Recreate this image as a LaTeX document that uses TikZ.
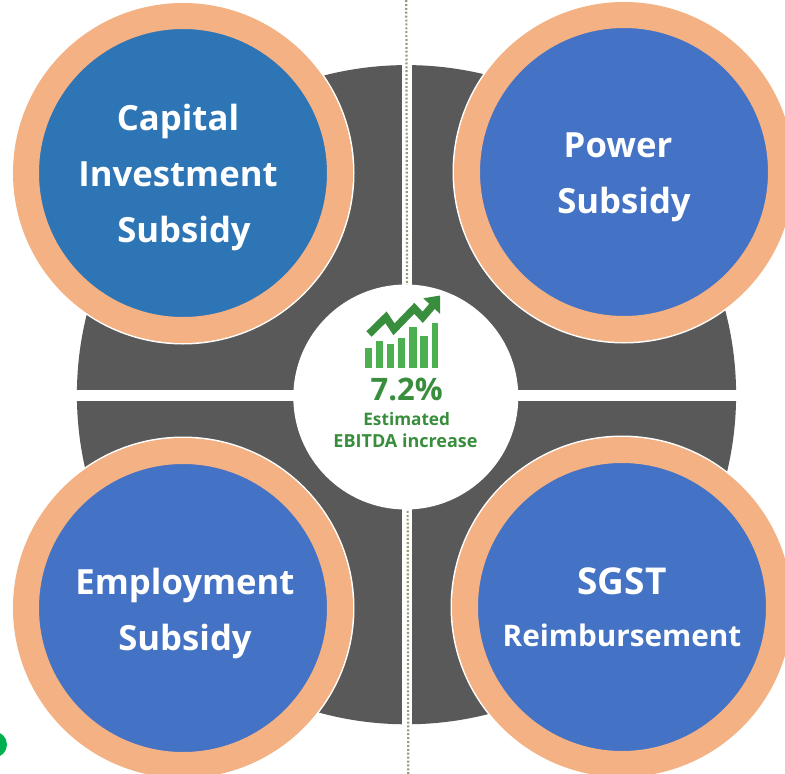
\documentclass[tikz,border=0pt]{standalone}
\usepackage{fontspec}
\setmainfont{Open Sans}
\definecolor{ringcol}{HTML}{F4B183}
\definecolor{bluecol}{HTML}{4472C4}
\definecolor{tealcol}{HTML}{2E75B6}
\definecolor{greycol}{HTML}{595959}
\definecolor{darkgreen}{HTML}{388E3C}
\definecolor{bargreen}{HTML}{4CAF50}
\definecolor{dotcol}{HTML}{A09A72}
\definecolor{blobgreen}{HTML}{00B050}
\tikzset{
        ring/.style={circle, fill=bluecol, draw=ringcol, line width=26pt, minimum size=314pt, inner sep=0pt, outer sep=0pt}, % orange band round each disc
        halo/.style={circle, fill=white, minimum size=343pt, inner sep=0pt},
        bigtext/.style={text=white, align=center, font=\bfseries\fontsize{34.7}{56}\selectfont},
        hubtext/.style={text=darkgreen, anchor=base, font=\bfseries\fontsize{17.5}{22}\selectfont},
        bar/.style={fill=bargreen},
    }

\begin{document}
\begin{tikzpicture}[x=1pt, y=-1pt]
    \useasboundingbox (0,0) rectangle (785,774);
    % grey wheel with its white cross
    \fill[greycol] (406.5,394.7) circle (329.6pt);
    \fill[white] (401.7,50) rectangle (411.7,740);
    \fill[white] (60,390) rectangle (750,401);
    \coordinate (dottop) at (406.3,0);
    \coordinate (dotbottom) at (408.3,774);
    \draw[dotcol, line width=2.2pt, dash pattern=on 2pt off 1.9pt] (dottop) -- (dotbottom);
    % green blob at the edge
    \node[circle, fill=blobgreen, minimum size=26pt, inner sep=0pt] (edgeblob) at (-6,744.5) {};
    % the four discs
    \node[halo] (capitalhalo) at (183,173) {};
    \node[halo] (powerhalo) at (624,172) {};
    \node[halo] (employmenthalo) at (183,608) {};
    \node[halo] (sgsthalo) at (622,607) {};
    \node[ring, fill=tealcol] (capital) at (183,173) {};
    \node[ring] (power) at (624,172) {};
    \node[ring] (employment) at (183,608) {};
    \node[ring] (sgst) at (622,607) {};
    \node[bigtext] (capitaltext) at (178,177) {Capital\\Investment\\\hspace{12pt}Subsidy};
    \node[bigtext] (powertext) at (621,177) {\hspace{-6pt}Power\\\hspace{6pt}Subsidy};
    \node[bigtext] (employmenttext) at (185,613) {Employment\\Subsidy};
    \node[bigtext] (sgsttext) at (622,607) {{\fontsize{37}{40}\selectfont SGST}\\[-4pt]{\fontsize{29.7}{40}\selectfont Reimbursement}};
    % centre
    \node[circle, fill=white, minimum size=225pt, inner sep=0pt] (hub) at (405.8,397) {};
    \foreach \bx/\btop/\bw in {365/348.3/7.3, 376/340.7/6.7, 387/344.3/7.3, 398.3/338.3/6.7, 409.3/326.7/8, 420.3/336/7.3, 431.7/322.7/6}
      \fill[bar] (\bx,\btop) rectangle ++(\bw,367.7-\btop);
    \draw[darkgreen, line width=7.5pt] (369,334) -- (386,317.3) -- (394,329.3) -- (414.3,308.3) -- (422.7,317.3) -- (434,304);
    \fill[darkgreen] (423.3,298.3) -- (440,295.5) -- (440,313.8) -- cycle;
    \node[text=darkgreen, font=\bfseries\fontsize{31}{30}\selectfont, anchor=base] (percent) at (406.7,400.7) {7.2\%};
    \node[hubtext, font=\bfseries\fontsize{17.2}{22}\selectfont] (estimated) at (406.7,425.7) {Estimated};
    \node[hubtext, font=\bfseries\fontsize{18}{22}\selectfont] (ebitda) at (405.5,447.7) {EBITDA increase};
\end{tikzpicture}
\end{document}
